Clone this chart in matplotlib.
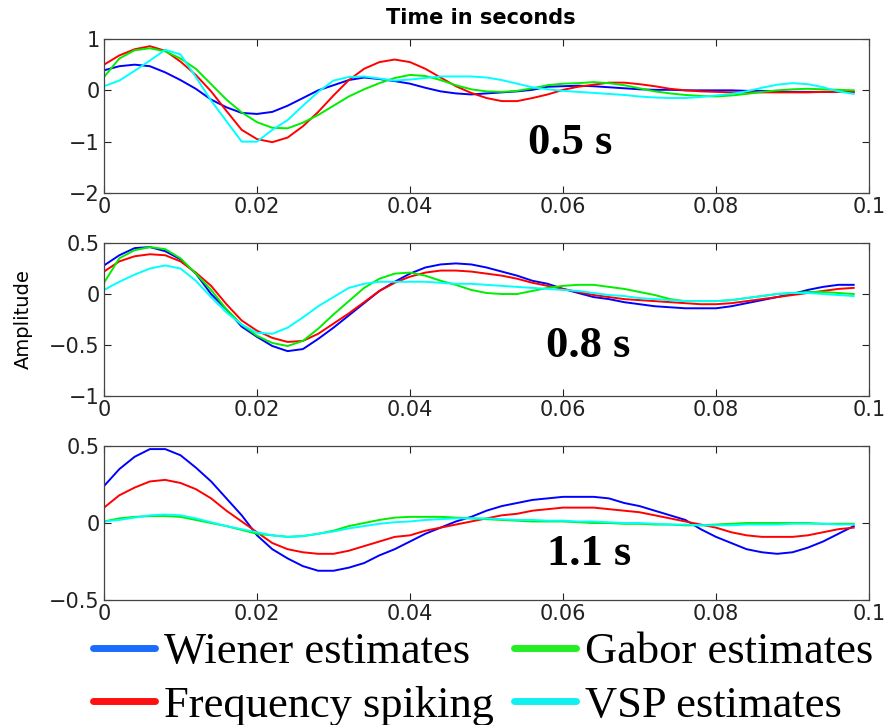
import matplotlib
matplotlib.use('Agg')
import matplotlib.pyplot as plt
from matplotlib.lines import Line2D
import numpy as np

# time axis (s)
t = np.linspace(0, 0.098, 50)

# 0.5 s
wiener_05 = [0.39, 0.47, 0.50, 0.47, 0.35, 0.20, 0.03, -0.18, -0.33, -0.44,
             -0.46, -0.42, -0.30, -0.15, 0.00, 0.10, 0.20, 0.25, 0.22, 0.18,
             0.13, 0.05, -0.02, -0.06, -0.08, -0.06, -0.04, -0.02, 0.01, 0.07,
             0.08, 0.09, 0.08, 0.06, 0.04, 0.02, 0.01, 0.01, 0.00, 0.00,
             0.00, 0.00, -0.01, -0.01, -0.02, -0.03, -0.03, -0.03, -0.03, -0.03]
freq_05 = [0.50, 0.68, 0.80, 0.86, 0.77, 0.56, 0.30, -0.02, -0.40, -0.77,
           -0.95, -1.01, -0.92, -0.70, -0.42, -0.10, 0.20, 0.42, 0.55, 0.60,
           0.55, 0.42, 0.25, 0.08, -0.05, -0.15, -0.21, -0.21, -0.15, -0.08,
           0.01, 0.07, 0.11, 0.15, 0.15, 0.12, 0.08, 0.03, 0.00, -0.02,
           -0.03, -0.04, -0.04, -0.04, -0.04, -0.04, -0.04, -0.03, -0.03, -0.03]
gabor_05 = [0.26, 0.62, 0.78, 0.82, 0.76, 0.62, 0.42, 0.12, -0.18, -0.43,
            -0.62, -0.73, -0.74, -0.63, -0.48, -0.30, -0.12, 0.02, 0.14, 0.24,
            0.30, 0.28, 0.20, 0.10, 0.02, -0.02, -0.03, -0.01, 0.04, 0.10,
            0.13, 0.14, 0.16, 0.14, 0.10, 0.04, -0.02, -0.06, -0.09, -0.11,
            -0.12, -0.10, -0.07, -0.03, 0.00, 0.02, 0.03, 0.02, 0.01, 0.00]
vsp_05 = [0.08, 0.19, 0.38, 0.58, 0.79, 0.70, 0.26, -0.20, -0.60, -1.00,
          -1.00, -0.77, -0.58, -0.30, -0.03, 0.19, 0.26, 0.27, 0.23, 0.19,
          0.21, 0.24, 0.27, 0.27, 0.27, 0.25, 0.20, 0.13, 0.06, 0.02,
          -0.01, -0.03, -0.05, -0.07, -0.09, -0.12, -0.14, -0.15, -0.15, -0.13,
          -0.10, -0.07, -0.02, 0.05, 0.11, 0.14, 0.12, 0.06, -0.02, -0.07]

# 0.8 s
wiener_08 = [0.28, 0.38, 0.45, 0.46, 0.42, 0.34, 0.20, 0.00, -0.15, -0.32,
             -0.42, -0.51, -0.56, -0.54, -0.44, -0.33, -0.21, -0.09, 0.03, 0.12,
             0.20, 0.26, 0.29, 0.30, 0.29, 0.26, 0.22, 0.18, 0.13, 0.10,
             0.05, 0.01, -0.03, -0.05, -0.08, -0.10, -0.12, -0.13, -0.14, -0.14,
             -0.14, -0.12, -0.09, -0.06, -0.03, 0.00, 0.04, 0.07, 0.09, 0.09]
freq_08 = [0.22, 0.32, 0.37, 0.39, 0.38, 0.32, 0.21, 0.08, -0.10, -0.26,
           -0.36, -0.43, -0.47, -0.46, -0.39, -0.29, -0.19, -0.08, 0.03, 0.11,
           0.17, 0.21, 0.23, 0.23, 0.22, 0.20, 0.18, 0.15, 0.11, 0.08,
           0.05, 0.02, -0.01, -0.03, -0.05, -0.06, -0.07, -0.08, -0.09, -0.10,
           -0.10, -0.09, -0.07, -0.05, -0.03, -0.01, 0.01, 0.03, 0.05, 0.06]
gabor_08 = [0.11, 0.35, 0.43, 0.46, 0.44, 0.35, 0.20, 0.04, -0.15, -0.30,
            -0.41, -0.48, -0.51, -0.46, -0.34, -0.20, -0.07, 0.06, 0.15, 0.20,
            0.21, 0.18, 0.13, 0.09, 0.04, 0.01, 0.00, 0.00, 0.03, 0.06,
            0.08, 0.09, 0.09, 0.07, 0.05, 0.02, -0.01, -0.05, -0.07, -0.07,
            -0.07, -0.06, -0.04, -0.02, 0.00, 0.01, 0.02, 0.02, 0.01, 0.00]
vsp_08 = [0.04, 0.12, 0.19, 0.25, 0.28, 0.25, 0.13, -0.03, -0.18, -0.30,
          -0.38, -0.39, -0.33, -0.23, -0.12, -0.03, 0.06, 0.10, 0.12, 0.12,
          0.12, 0.12, 0.11, 0.10, 0.10, 0.09, 0.08, 0.07, 0.06, 0.05,
          0.04, 0.03, 0.01, -0.01, -0.02, -0.04, -0.05, -0.06, -0.07, -0.07,
          -0.07, -0.06, -0.04, -0.02, 0.00, 0.01, 0.01, 0.00, -0.01, -0.02]

# 1.1 s
wiener_11 = [0.24, 0.35, 0.43, 0.48, 0.48, 0.44, 0.36, 0.27, 0.16, 0.05,
             -0.08, -0.17, -0.23, -0.28, -0.31, -0.31, -0.29, -0.26, -0.21, -0.17,
             -0.12, -0.07, -0.03, 0.01, 0.04, 0.08, 0.11, 0.13, 0.15, 0.16,
             0.17, 0.17, 0.17, 0.16, 0.13, 0.11, 0.08, 0.05, 0.02, -0.04,
             -0.09, -0.13, -0.17, -0.19, -0.20, -0.19, -0.16, -0.12, -0.07, -0.02]
freq_11 = [0.10, 0.18, 0.23, 0.27, 0.28, 0.26, 0.22, 0.16, 0.08, 0.01,
           -0.06, -0.13, -0.17, -0.19, -0.20, -0.20, -0.18, -0.15, -0.12, -0.09,
           -0.08, -0.05, -0.03, -0.01, 0.01, 0.03, 0.05, 0.06, 0.08, 0.09,
           0.10, 0.10, 0.10, 0.09, 0.08, 0.07, 0.05, 0.03, 0.01, -0.01,
           -0.03, -0.06, -0.08, -0.09, -0.09, -0.09, -0.08, -0.06, -0.04, -0.03]
gabor_11 = [0.01, 0.03, 0.04, 0.045, 0.045, 0.04, 0.02, 0.00, -0.02, -0.045,
            -0.07, -0.08, -0.09, -0.085, -0.07, -0.05, -0.02, 0.00, 0.02, 0.035,
            0.04, 0.04, 0.04, 0.035, 0.03, 0.025, 0.02, 0.015, 0.01, 0.01,
            0.01, 0.005, 0.00, 0.00, -0.005, -0.005, -0.01, -0.01, -0.015, -0.015,
            -0.01, -0.005, 0.00, 0.00, 0.00, 0.00, 0.00, -0.005, -0.005, -0.005]
vsp_11 = [0.01, 0.02, 0.035, 0.05, 0.055, 0.05, 0.03, 0.005, -0.02, -0.04,
          -0.06, -0.08, -0.09, -0.085, -0.07, -0.055, -0.035, -0.02, -0.005, 0.005,
          0.01, 0.02, 0.025, 0.03, 0.03, 0.03, 0.025, 0.02, 0.02, 0.015,
          0.015, 0.01, 0.01, 0.005, 0.00, 0.00, -0.005, -0.01, -0.01, -0.015,
          -0.015, -0.015, -0.01, -0.01, -0.01, -0.005, -0.005, -0.005, -0.01, -0.01]

panels = [
    ('0.5 s', [wiener_05, freq_05, gabor_05, vsp_05], (-2, 1), [-2, -1, 0, 1], ['\u22122', '\u22121', '0', '1'], (0.061, -1.03)),
    ('0.8 s', [wiener_08, freq_08, gabor_08, vsp_08], (-1, 0.5), [-1, -0.5, 0, 0.5], ['\u22121', '\u22120.5', '0', '0.5'], (0.0633, -0.51)),
    ('1.1 s', [wiener_11, freq_11, gabor_11, vsp_11], (-0.5, 0.5), [-0.5, 0, 0.5], ['\u22120.5', '0', '0.5'], (0.0634, -0.2)),
]

line_colors = ['#0000ff', '#ff0000', '#00ee00', '#00ffff']
legend_colors = ['#1a6cff', '#ff1010', '#22ee22', '#10f0f0']
labels = ['Wiener estimates', 'Frequency spiking', 'Gabor estimates', 'VSP estimates']

xticks = [0, 0.02, 0.04, 0.06, 0.08, 0.1]
xticklabels = ['0', '0.02', '0.04', '0.06', '0.08', '0.1']

fig = plt.figure(figsize=(8.89, 7.25), dpi=100)
bottoms = [0.7338, 0.4538, 0.1724]
heights = [0.2124, 0.211, 0.2124]

for (name, series, ylim, yticks, ylabels, pos), b, h in zip(panels, bottoms, heights):
    ax = fig.add_axes([0.117, b, 0.8605, h])
    for y, c in zip(series, line_colors):
        ax.plot(t, y, color=c, lw=1.4)
    ax.set_xlim(0, 0.1)
    ax.set_ylim(*ylim)
    ax.set_xticks(xticks)
    ax.set_xticklabels(xticklabels)
    ax.set_yticks(yticks)
    ax.set_yticklabels(ylabels)
    ax.tick_params(direction='in', top=True, right=True, length=5, width=0.8,
                   labelsize=15, colors='#222222', pad=3)
    for s in ax.spines.values():
        s.set_color('#444444')
        s.set_linewidth(0.9)
    ax.text(pos[0], pos[1], name, ha='center', va='center', fontsize=32,
            fontweight='bold', family='Liberation Serif')

fig.text(481 / 889, 1 - 18 / 725, 'Time in seconds', ha='center', va='center',
         fontsize=15, fontweight='semibold')
fig.text(23 / 889, 1 - 319 / 725, 'Amplitude', ha='center', va='center', rotation=90, fontsize=14)

handles = [Line2D([], [], color=c, lw=5, solid_capstyle='round') for c in legend_colors]
fig.legend(handles, labels, ncol=2, loc='upper left', bbox_to_anchor=(93 / 889, 1 - 632 / 725),
           frameon=False, prop={'family': 'Liberation Serif', 'size': 32},
           handlelength=1.4, handletextpad=0.2, columnspacing=0.45, labelspacing=0.3,
           borderpad=0, borderaxespad=0)

fig.savefig('out.png', dpi=100)
